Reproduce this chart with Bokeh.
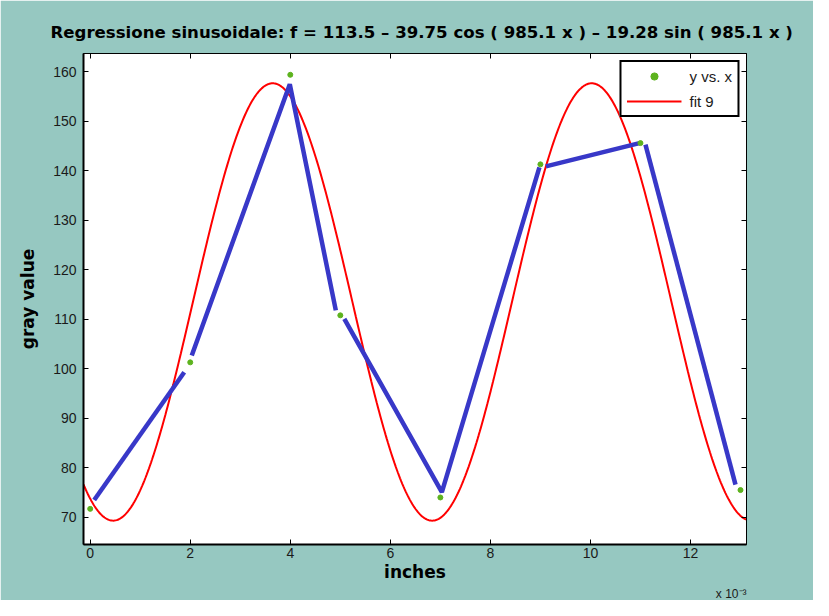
import numpy as np
from bokeh.plotting import figure
from bokeh.models import FixedTicker, LinearAxis, Title, Legend, LegendItem
from bokeh.embed import file_html
from bokeh.resources import INLINE

# ---- data ----
x_data = [0, 2, 4, 5, 7, 9, 11, 13]                 # inches x 1e-3
y_data = [71.7, 101.3, 159.4, 110.8, 74.0, 141.3, 145.6, 75.5]

blue_xs = [[0.08, 1.88], [2.03, 3.99, 4.91], [5.08, 7.03, 8.98], [9.11, 10.98], [11.1, 12.9]]
blue_ys = [[73.5, 99.3], [102.7, 157.5, 111.8], [110.1, 75.1, 140.7], [140.9, 145.6], [145.3, 76.6]]

# fit coefficients shown in the title
fit_a0 = 113.5
fit_a1 = 39.75
fit_b1 = 19.28
fit_w = 985.1
x_scale = 1e-3

x_ticks = [0, 2, 4, 6, 8, 10, 12]
y_ticks = [70, 80, 90, 100, 110, 120, 130, 140, 150, 160]

title_text = "Regressione sinusoidale:  f = 113.5 \u2013 39.75 cos ( 985.1 x ) \u2013 19.28 sin ( 985.1 x )"

# ---- figure ----
TEAL = "#96C8C1"
x0, x1 = -0.134, 13.12
y0, y1 = 64.5, 163.7

p = figure(width=813, height=600, x_range=(x0, x1), y_range=(y0, y1),
           output_backend="svg", toolbar_location=None,
           min_border_left=83, min_border_right=67, min_border_top=53, min_border_bottom=56)
p.border_fill_color = TEAL
p.background_fill_color = "white"
p.outline_line_color = "black"
p.outline_line_width = 1
p.xgrid.visible = False
p.ygrid.visible = False

p.title.text = title_text
p.title.align = "left"
p.title.offset = -33
p.title.text_font = "DejaVu Sans"
p.title.text_font_style = "bold"
p.title.text_font_size = "16.6px"
p.title.text_color = "black"
p.title.standoff = 24

for ax, ticks in ((p.xaxis[0], x_ticks), (p.yaxis[0], y_ticks)):
    ax.ticker = FixedTicker(ticks=ticks)
    ax.major_tick_in = 5
    ax.major_tick_out = 0
    ax.minor_tick_line_color = None
    ax.axis_line_width = 2
    ax.axis_line_color = "black"
    ax.major_tick_line_color = "black"
    ax.major_label_text_font = "Liberation Sans"
    ax.major_label_text_font_size = "14px"
    ax.major_label_text_color = "#1a1a1a"
    ax.axis_label_text_font = "DejaVu Sans"
    ax.axis_label_text_font_style = "bold"
    ax.axis_label_text_font_size = "17px"
    ax.axis_label_text_color = "black"
p.yaxis[0].major_label_standoff = 7
p.xaxis[0].major_label_standoff = 3
p.yaxis[0].axis_label = "gray value"
p.yaxis[0].axis_label_standoff = 12
p.xaxis[0].axis_label = "inches"
p.xaxis[0].axis_label_standoff = 1

top_ax = LinearAxis(ticker=FixedTicker(ticks=x_ticks), major_tick_in=5, major_tick_out=0,
                    minor_tick_line_color=None, major_label_text_color=None,
                    major_label_text_font_size="0px", major_label_standoff=0,
                    axis_line_color="black")
right_ax = LinearAxis(ticker=FixedTicker(ticks=y_ticks), major_tick_in=5, major_tick_out=0,
                      minor_tick_line_color=None, major_label_text_color=None,
                      major_label_text_font_size="0px", major_label_standoff=0,
                      axis_line_color="black")
p.add_layout(top_ax, "above")
p.add_layout(right_ax, "right")

exp_title = Title(text="x 10\u207b\u00b3", align="right", text_font="Liberation Sans",
                  text_font_size="12px", text_font_style="normal", text_color="#1a1a1a",
                  standoff=0, offset=0)
p.add_layout(exp_title, "below")

# ---- fit curve ----
xf = np.linspace(x0, x1, 600)
yf = fit_a0 - fit_a1 * np.cos(fit_w * xf * x_scale) - fit_b1 * np.sin(fit_w * xf * x_scale)
r_fit = p.line(xf, yf, line_color="#FF0000", line_width=2)

# ---- blue polyline pieces ----
p.multi_line(blue_xs, blue_ys, line_color="#3838C8", line_width=4.5)

# ---- data points ----
r_pts = p.scatter(x_data, y_data, marker="circle", size=5, fill_color="#5DB31E",
                  line_color="#5DB31E")

legend = Legend(items=[LegendItem(label="y vs. x", renderers=[r_pts]),
                       LegendItem(label="fit 9", renderers=[r_fit])],
                location="top_right")
legend.margin = 7
legend.padding = 5
legend.spacing = 7
legend.glyph_width = 55
legend.glyph_height = 18
legend.label_height = 18
legend.label_standoff = 8
legend.border_line_color = "black"
legend.border_line_width = 2
legend.border_line_alpha = 1
legend.background_fill_color = "white"
legend.background_fill_alpha = 1
legend.label_text_font = "Liberation Sans"
legend.label_text_font_size = "15px"
legend.label_text_color = "#1a1a1a"
p.add_layout(legend)

open("out.html", "w").write(file_html(p, INLINE))
